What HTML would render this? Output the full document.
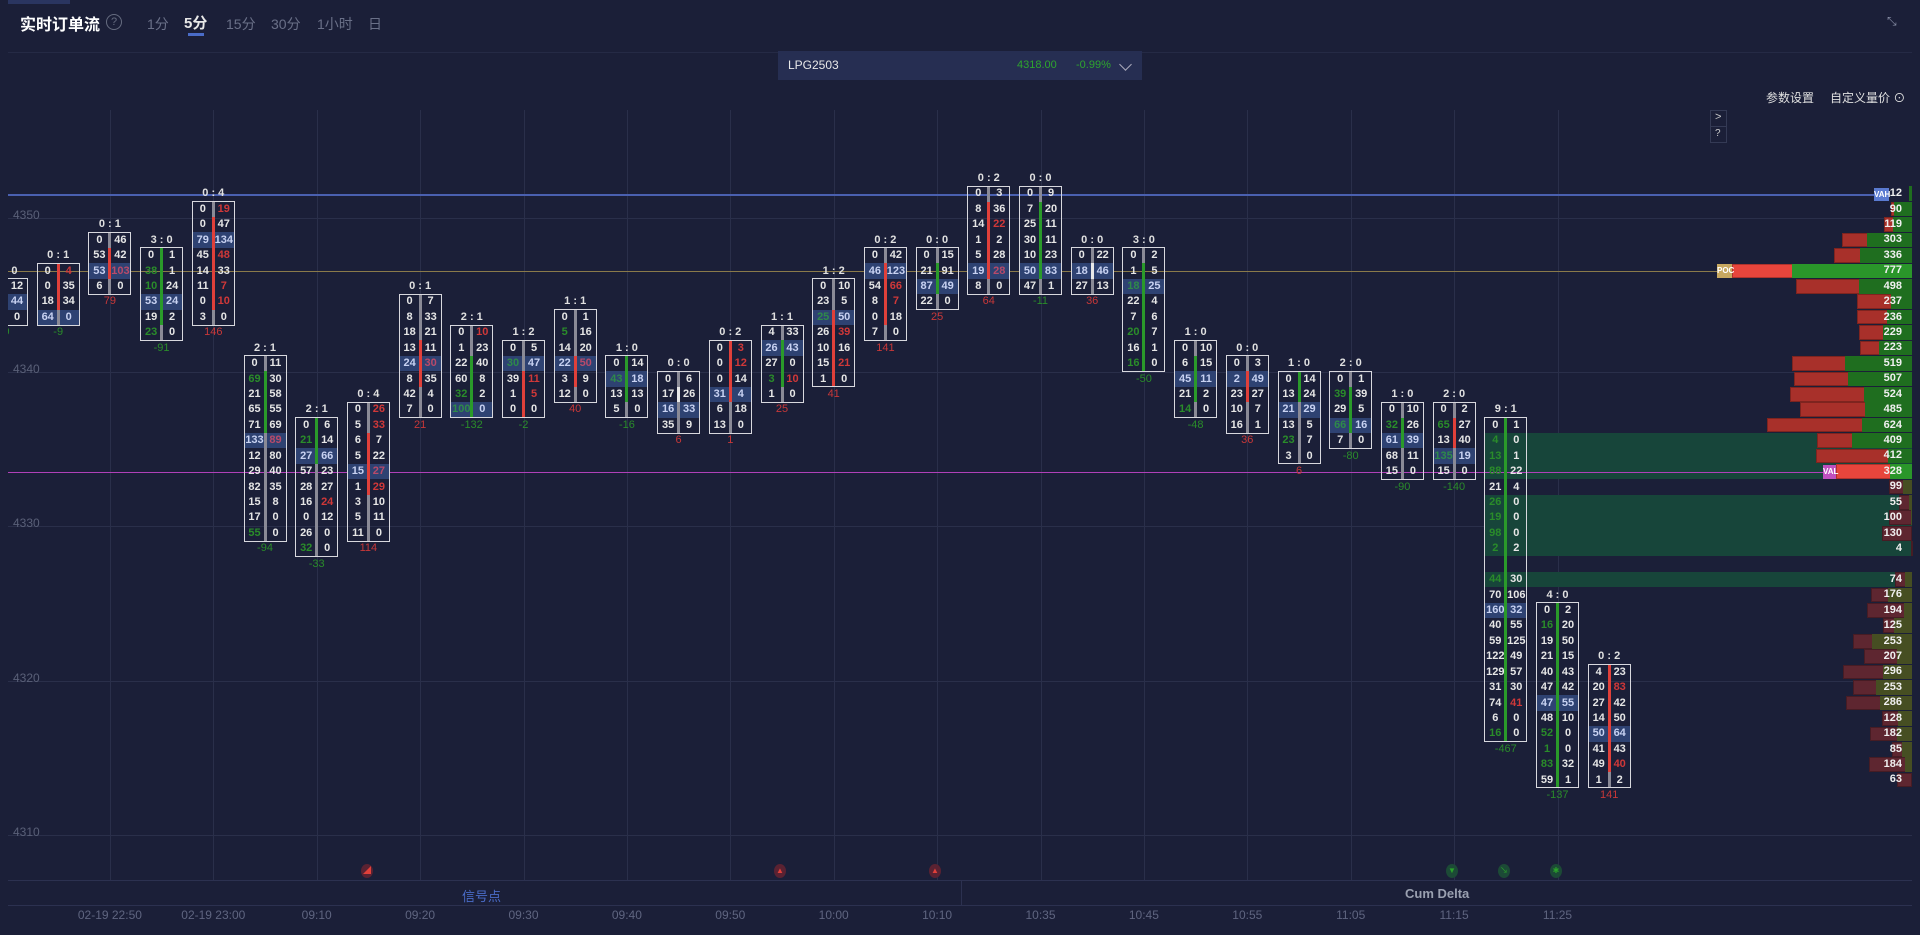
<!DOCTYPE html>
<html><head><meta charset="utf-8">
<style>
*{margin:0;padding:0;box-sizing:border-box}
body{width:1920px;height:935px;background:#1b1f38;overflow:hidden;position:relative;font-family:"Liberation Sans","Noto Sans CJK SC",sans-serif;color:#e6e6e6}
.a{position:absolute}
.t{position:absolute;font-size:11px;font-weight:bold;text-align:center;line-height:15px;white-space:nowrap}
#chart{position:absolute;left:8px;top:100px;width:1912px;height:780px;overflow:hidden}
</style></head><body>
<!-- header -->
<div class="a" style="left:0;top:0;width:70px;height:4px;background:#2a3560"></div>
<div class="a" style="left:20px;top:11px;font-size:16px;font-weight:bold;color:#fff">实时订单流</div>
<div class="a" style="left:106px;top:14px;width:16px;height:16px;border:1px solid #666c80;border-radius:50%;font-size:11px;color:#666c80;text-align:center;line-height:14px">?</div>
<div class="a" style="left:147px;top:14px;font-size:14px;color:#6a7088">1分</div>
<div class="a" style="left:184px;top:12px;font-size:15px;font-weight:bold;color:#e8e8e8">5分</div>
<div class="a" style="left:188px;top:33px;width:16px;height:3px;background:#4a6cc8"></div>
<div class="a" style="left:226px;top:14px;font-size:14px;color:#6a7088">15分</div>
<div class="a" style="left:271px;top:14px;font-size:14px;color:#6a7088">30分</div>
<div class="a" style="left:317px;top:14px;font-size:14px;color:#6a7088">1小时</div>
<div class="a" style="left:368px;top:14px;font-size:14px;color:#6a7088">日</div>
<div class="a" style="left:8px;top:52px;width:1904px;height:1px;background:#252a45"></div>
<div class="a" style="left:1887px;top:14px;font-size:12px;color:#8a90a8">⤡</div>
<div class="a" style="left:778px;top:51px;width:364px;height:29px;background:#262e52"></div>
<div class="a" style="left:788px;top:58px;font-size:12px;color:#e8e8e8">LPG2503</div>
<div class="a" style="left:1017px;top:59px;font-size:11px;color:#2ea52e">4318.00</div>
<div class="a" style="left:1076px;top:59px;font-size:11px;color:#2ea52e">-0.99%</div>
<div class="a" style="left:1121px;top:60px;width:9px;height:9px;border-right:1.5px solid #aab;border-bottom:1.5px solid #aab;transform:rotate(45deg)"></div>
<div class="a" style="left:1766px;top:89px;font-size:12px;color:#e0e0e0">参数设置</div>
<div class="a" style="left:1830px;top:89px;font-size:12px;color:#e0e0e0">自定义量价 ⊙</div>
<div class="a" style="left:1710px;top:110px;width:17px;height:33px;border:1px solid #343a55"></div>
<div class="a" style="left:1710px;top:126px;width:17px;height:1px;background:#343a55"></div>
<div class="a" style="left:1715px;top:111px;font-size:11px;color:#ccc">&gt;</div>
<div class="a" style="left:1715px;top:128px;font-size:10px;color:#ccc">?</div>
<div id="root"></div>
<!-- bottom -->
<div class="a" style="left:8px;top:880px;width:1904px;height:1px;background:#2c3150"></div>
<div class="a" style="left:8px;top:905px;width:1904px;height:1px;background:#2c3150"></div>
<div class="a" style="left:961px;top:881px;width:1px;height:24px;background:#2c3150"></div>
<div class="a" style="left:462px;top:886px;font-size:13px;color:#4a6cc8">信号点</div>
<div class="a" style="left:1405px;top:886px;font-size:13px;font-weight:bold;color:#9aa0b0">Cum Delta</div>
<script>
const root=document.getElementById('root');
function add(html){root.insertAdjacentHTML('beforeend',html);}
const Y=L=>271+15.43*L;
const CX=i=>6.5+51.7*i;
// grid
let g='';
[4350,4340,4330,4320,4310].forEach(p=>{const y=217.7+(4350-p)*15.43;
g+=`<div class="a" style="left:8px;top:${y}px;width:1904px;height:1px;background:#2a2f4a"></div>`;
g+=`<div class="a" style="left:13px;top:${y-10}px;font-size:12px;color:#5a6078">${p}</div>`;});
const labels=["02-19 22:50","02-19 23:00","09:10","09:20","09:30","09:40","09:50","10:00","10:10","10:35","10:45","10:55","11:05","11:15","11:25"];
for(let k=0;k<15;k++){const x=CX(2+2*k);
g+=`<div class="a" style="left:${x}px;top:110px;width:1px;height:770px;background:#2a2f4a"></div>`;
g+=`<div class="a" style="left:${x-50}px;top:908px;width:100px;text-align:center;font-size:12px;color:#5f6580">${labels[k]}</div>`;}
add(g);
// green bands
[11,12,13,15,16,17,18,20].forEach(L=>add(`<div class="a" style="left:1485px;top:${Y(L)-7.7}px;width:427px;height:15.4px;background:#17453a"></div>`));
// lines
add(`<div class="a" style="left:8px;top:194px;width:1866px;height:1.5px;background:#4a60b0"></div>`);
add(`<div class="a" style="left:8px;top:270.5px;width:1709px;height:1.5px;background:#8a7a4a"></div>`);
add(`<div class="a" style="left:8px;top:471.5px;width:1815px;height:1.5px;background:#b040b8"></div>`);
const C=[
[0,1,"0 : 0","9","g",[" |12","*|44"," |0"],null],
[1,0,"0 : 1","-9","g",["0|4r","0|35","18|34","*64|0"],[0,2,'r']],
[2,-2,"0 : 1","79","r",["0|46","53|42","*53|103r","6|0"],[-1,0,'r']],
[3,-1,"3 : 0","-91","g",["0|1","38g|1","10g|24","*53|24","19|2","23g|0"],[-1,3,'g']],
[4,-4,"0 : 4","146","r",["0|19r","0|47","*79|134","45|48r","14|33","11|7r","0|10r","3|0"],[-3,2,'r']],
[5,6,"2 : 1","-94","g",["0|11","69g|30","21|58","65|55","71|69","*133|89r","12|80","29|40","82|35","15|8","17|0","55g|0"],[7,10,'g']],
[6,10,"2 : 1","-33","g",["0|6","21g|14","*27|66","57|23","28|27","16|24r","0|12","26|0","32g|0"],[10,12,'g']],
[7,9,"0 : 4","114","r",["0|26r","5|33r","6|7","5|22","*15|27r","1|29r","3|10","5|11","11|0"],[11,14,'r']],
[8,2,"0 : 1","21","r",["0|7","8|33","18|21","13|11","*24|30r","8|35","42|4","7|0"],[5,7,'r']],
[9,4,"2 : 1","-132","g",["0|10r","1|23","22|40","60|8","32g|2","*100g|0"],[6,9,'g']],
[10,5,"1 : 2","-2","g",["0|5","*30g|47","39|11r","1|5r","0|0"],[7,9,'r']],
[11,3,"1 : 1","40","r",["0|1","5g|16","14|20","*22|50r","3|9","12|0"],[6,7,'r']],
[12,6,"1 : 0","-16","g",["0|14","*43g|18","13|13","5|0"],[6,8,'g']],
[13,7,"0 : 0","6","r",["0|6","17|26","*16|33","35|9"],[8,8,'w']],
[14,5,"0 : 2","1","r",["0|3r","0|12r","0|14","*31|4","6|18","13|0"],[5,8,'r']],
[15,4,"1 : 1","25","r",["4|33","*26|43","27|0","3g|10r","1|0"],[5,7,'g']],
[16,1,"1 : 2","41","r",["0|10","23|5","*25g|50","26|39r","10|16","15|21r","1|0"],[3,7,'r']],
[17,-1,"0 : 2","141","r",["0|42","*46|123","54|66r","8|7r","0|18","7|0"],[0,3,'r']],
[18,-1,"0 : 0","25","r",["0|15","21|91","*87|49","22|0"],[0,1,'g']],
[19,-5,"0 : 2","64","r",["0|3","8|36","14|22r","1|2","5|28","*19|28r","8|0"],[-4,0,'r']],
[20,-5,"0 : 0","-11","g",["0|9","7|20","25|11","30|11","10|23","*50|83","47|1"],[-4,0,'g']],
[21,-1,"0 : 0","36","r",["0|22","*18|46","27|13"],[0,0,'w']],
[22,-1,"3 : 0","-50","g",["0|2","1|5","*18g|25","22|4","7|6","20g|7","16|1","16g|0"],[0,6,'g']],
[23,5,"1 : 0","-48","g",["0|10","6|15","*45|11","21|2","14g|0"],[6,8,'g']],
[24,6,"0 : 0","36","r",["0|3","*2|49","23|27","10|7","16|1"],[7,8,'r']],
[25,7,"1 : 0","6","r",["0|14","13|24","*21|29","13|5","23g|7","3|0"],[7,8,'g']],
[26,7,"2 : 0","-80","g",["0|1","39g|39","29|5","*66g|16","7|0"],[8,10,'g']],
[27,9,"1 : 0","-90","g",["0|10","32g|26","*61|39","68|11","15|0"],[10,11,'g']],
[28,9,"2 : 0","-140","g",["0|2","65g|27","13|40","*135g|19","15|0"],[10,11,'r']],
[29,10,"9 : 1","-467","g",["0|1","4g|0","13g|1","88g|22","21|4","26g|0","19g|0","98g|0","2g|2","|","44g|30","70|106","*160|32","40|55","59|125","122|49","129|57","31|30","74|41r","6|0","16g|0"],[10,30,'g']],
[30,22,"4 : 0","-137","g",["0|2","16g|20","19|50","21|15","40|43","47|42","*47|55","48|10","52g|0","1g|0","83g|32","59|1"],[22,33,'g']],
[31,26,"0 : 2","141","r",["4|23","20|83r","27|42","14|50","*50|64","41|43","49|40r","1|2"],[26,32,'r']]
];
const col={r:'#d03838',g:'#2a8c2a',w:'#e6e6e6'};
const barc={r:'#e0403a',g:'#2a9a2a',w:'#e8e8e8'};
function cell(v,x,y,hl){if(!v||v==' ')return '';let c='w';const last=v.slice(-1);
if(last=='r'||last=='g'){c=last;v=v.slice(0,-1);}
let color=col[c];if(hl){if(c=='w')color='#c8d2f2';else if(c=='r')color='#b84a6a';else color='#2e8a4a';}
return `<div class="t" style="left:${x}px;top:${y-7.5}px;width:21px;color:${color}">${v}</div>`;}
let h='';
C.forEach(([i,L,hd,f,fc,rows,bar])=>{const cx=CX(i);const n=rows.length;const top=Y(L)-7.7;const ht=n*15.43;
rows.forEach((r,k)=>{let hl=false;if(r[0]=='*'){hl=true;r=r.slice(1);}
const y=Y(L+k);
if(hl)h+=`<div class="a" style="left:${cx-21}px;top:${y-7.7}px;width:42px;height:15.4px;background:#2e4272"></div>`;
const [a,b]=r.split('|');h+=cell(a,cx-21,y,hl)+cell(b,cx,y,hl);});
h+=`<div class="a" style="left:${cx-1.5}px;top:${top}px;width:3px;height:${ht}px;background:#8a8a96"></div>`;
if(bar){const t=Y(bar[0])-7.7;h+=`<div class="a" style="left:${cx-1.5}px;top:${t}px;width:3px;height:${(bar[1]-bar[0]+1)*15.43}px;background:${barc[bar[2]]}"></div>`;}
h+=`<div class="a" style="left:${cx-21.5}px;top:${top-0.5}px;width:43px;height:${ht+1}px;border:1.5px solid #d8d8de"></div>`;
h+=`<div class="t" style="left:${cx-30}px;top:${Y(L-1)-7.5}px;width:60px;color:#e0e0e0">${hd.replace(/ /g,'&nbsp;')}</div>`;
h+=`<div class="t" style="left:${cx-30}px;top:${Y(L+n)-7.5}px;width:60px;font-weight:normal;color:${fc=='r'?'#c83838':'#2a8c2a'}">${f}</div>`;
});
add(`<div class="a" style="left:0;top:0;width:8px;height:880px;background:#1b1f38;z-index:5"></div>`);
add(h);
add(`<div class="a" style="left:0;top:100px;width:8px;height:780px;background:#1b1f38"></div>`);
// profile
const P=[[-5,12,3,3],[-4,90,21,18],[-3,119,28,19],[-2,303,70,45],[-1,336,78,52],[0,777,180,120],[1,498,116,53],[2,237,55,21],[3,236,55,25],[4,229,53,29],[5,223,52,33],[6,519,120,67],[7,507,118,64],[8,524,122,48],[9,485,112,47],[10,624,145,50],[11,409,95,60],[12,412,96,24],[13,328,76,22],
[14,99,23,9],[15,55,13,3],[16,100,23,1],[17,130,30,0],[18,4,1,0],[20,74,17,7],[21,176,41,24],[22,194,45,8],[23,125,29,18],[24,253,59,40],[25,207,48,15],[26,296,69,29],[27,253,59,36],[28,286,66,32],[29,128,30,14],[30,182,42,15],[31,85,20,10],[32,184,43,7],[33,63,15,0]];
let p='';
P.forEach(([L,v,w,gw])=>{const y=Y(L)-7.4;const dim=L>=14;const bright=(L==0||L==13);
const rc=dim?'#5e2630':bright?'#e8453c':'#a8302a';const gc=dim?'#464e22':bright?'#2a962a':'#1f6e1f';
if(L!=-5)p+=`<div class="a" style="left:${1912-w}px;top:${y}px;width:${w}px;height:14.6px;background:${rc};border:1px solid rgba(0,0,0,.25)"></div>`;
p+=`<div class="a" style="left:${1912-gw}px;top:${y}px;width:${gw}px;height:14.6px;background:${gc}"></div>`;
p+=`<div class="t" style="left:${1852}px;top:${y-0.3}px;width:50px;text-align:right;color:#f0f0f0">${v}</div>`;});
p+=`<div class="a" style="left:1874px;top:188px;width:15px;height:13px;background:#5a7ad0;font-size:8px;font-weight:bold;color:#fff;line-height:13px;text-align:center">VAH</div>`;
p+=`<div class="a" style="left:1717px;top:264px;width:15px;height:14px;background:#c8a860;font-size:8px;font-weight:bold;color:#fff;line-height:14px;text-align:center">POC</div>`;
p+=`<div class="a" style="left:1823px;top:465px;width:13px;height:14px;background:#c050c0;font-size:8px;font-weight:bold;color:#fff;line-height:14px;text-align:center">VAL</div>`;
add(p);
// signals
let s='';
[[367,'r','◢'],[780,'r','▲'],[935,'r','▲'],[1452,'g','▼'],[1504,'g','↘'],[1556,'g','✱']].forEach(([x,c,ch])=>{
s+=`<div class="a" style="left:${x-6}px;top:864px;width:12px;height:14px;border-radius:50%;background:${c=='r'?'#5a2232':'#1c4a36'};color:${c=='r'?'#e0403a':'#2aa02a'};font-size:8px;text-align:center;line-height:14px">${ch}</div>`;});
add(s);
</script>
</body></html>
